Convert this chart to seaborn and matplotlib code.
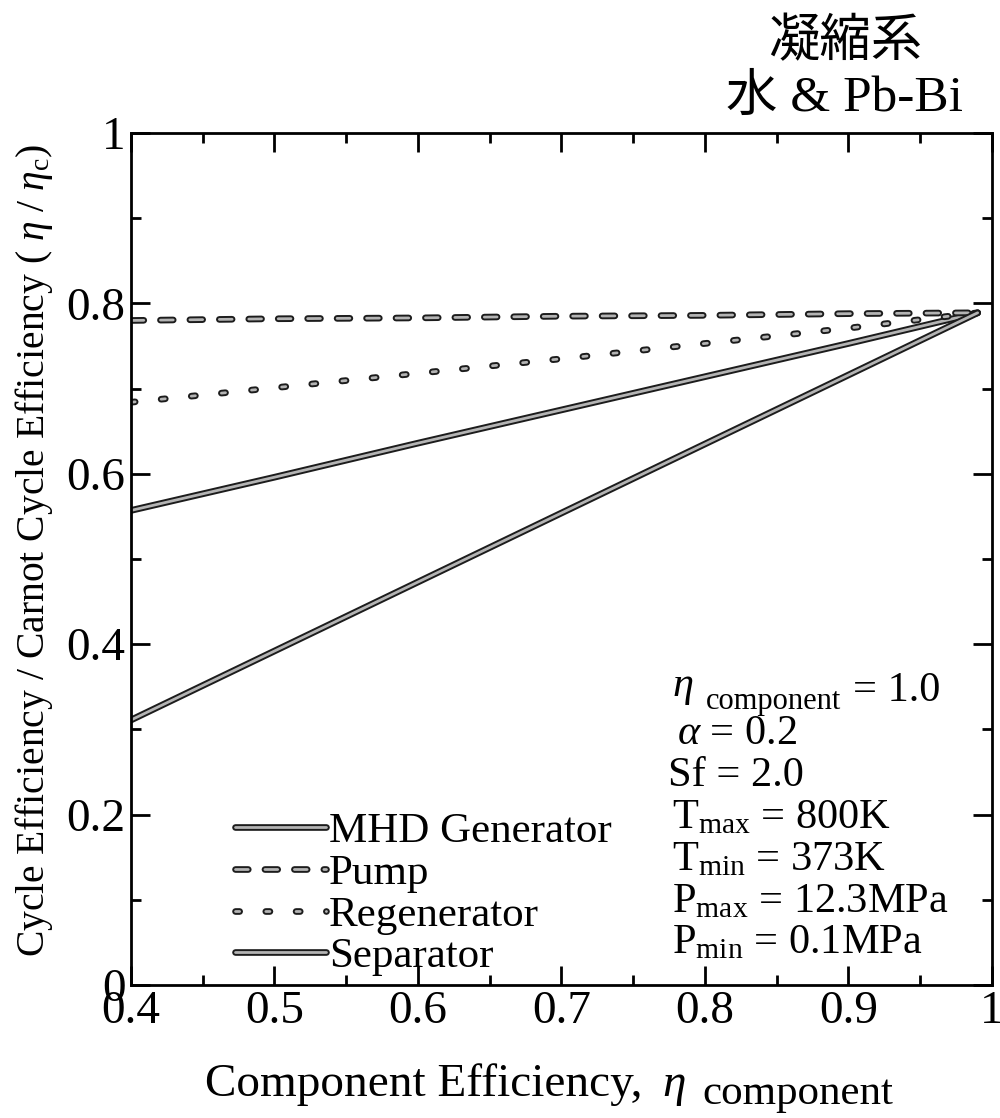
import numpy as np
import pandas as pd
import matplotlib
matplotlib.use("Agg")
import matplotlib.pyplot as plt
import matplotlib.patheffects as pe
from matplotlib.ticker import MultipleLocator, FuncFormatter
import seaborn as sns

# ---- data ----
eta_component = [0.40, 0.50, 0.60, 0.70, 0.80, 0.90, 0.99]
mhd_generator = [0.557, 0.596, 0.636, 0.675, 0.714, 0.753, 0.789]
pump = [0.780, 0.782, 0.783, 0.785, 0.786, 0.788, 0.789]
regenerator = [0.684, 0.701, 0.718, 0.735, 0.753, 0.771, 0.789]
separator = [0.311, 0.392, 0.473, 0.554, 0.635, 0.716, 0.789]
series_names = ["MHD Generator", "Pump", "Regenerator", "Separator"]
x_ticks = [0.4, 0.5, 0.6, 0.7, 0.8, 0.9, 1.0]
y_ticks = [0, 0.2, 0.4, 0.6, 0.8, 1.0]
title_lines = ["凝縮系", "水 & Pb-Bi"]
eta_line_parts = [r"$\eta$", "component", "= 1.0"]
condition_lines = [
    r"$\alpha$ = 0.2",
    "Sf = 2.0",
    r"T$_{\rm max}$ = 800K",
    r"T$_{\rm min}$ = 373K",
    r"P$_{\rm max}$ = 12.3MPa",
    r"P$_{\rm min}$ = 0.1MPa",
]
xlabel_parts = ["Component Efficiency,", r"$\eta$", "component"]

values = [mhd_generator, pump, regenerator, separator]
df = pd.DataFrame({
    "eta": np.concatenate([eta_component] * len(series_names)),
    "ratio": np.concatenate(values),
    "series": np.repeat(series_names, len(eta_component)),
})

sns.set_theme(style="ticks")
plt.rcParams["font.family"] = ["Liberation Serif", "Noto Sans CJK JP"]
plt.rcParams["mathtext.fontset"] = "custom"
plt.rcParams["mathtext.rm"] = "Liberation Serif"
plt.rcParams["mathtext.it"] = "Liberation Serif:italic"
plt.rcParams["mathtext.bf"] = "Liberation Serif:bold"

fig = plt.figure(figsize=(10, 11.18), dpi=100)
fig.patch.set_facecolor("white")
ax = fig.add_axes([0.131, 0.119, 0.861, 0.762])
ax.set_facecolor("white")

palette = {s: "#b4b4b4" for s in series_names}
dashes = {
    "MHD Generator": "",
    "Pump": (4.6, 6.0),
    "Regenerator": (1.5, 9.4),
    "Separator": "",
}
sns.lineplot(data=df, x="eta", y="ratio", hue="series", style="series",
             hue_order=series_names, style_order=series_names,
             palette=palette, dashes=dashes, linewidth=2.0,
             sort=False, legend=False, ax=ax)

for line in ax.lines:
    line.set_dash_capstyle("round")
    line.set_solid_capstyle("round")
    line.set_path_effects([pe.Stroke(linewidth=4.8, foreground="#1c1c1c"), pe.Normal()])

ax.set_xlim(0.4, 1.0)
ax.set_ylim(0, 1.0)
ax.set_xticks(x_ticks)
ax.set_yticks(y_ticks)
ax.xaxis.set_minor_locator(MultipleLocator(0.05))
ax.yaxis.set_minor_locator(MultipleLocator(0.1))
fmt = FuncFormatter(lambda v, p: "%g" % round(v, 3))
ax.xaxis.set_major_formatter(fmt)
ax.yaxis.set_major_formatter(fmt)
ax.tick_params(which="both", direction="in", top=True, right=True,
               width=2, color="black")
ax.tick_params(which="major", length=14)
ax.tick_params(which="minor", length=7)
ax.tick_params(axis="x", labelsize=34, pad=4, labelcolor="black")
ax.tick_params(axis="y", labelsize=34, pad=4, labelcolor="black")
for sp in ax.spines.values():
    sp.set_linewidth(2)
    sp.set_color("black")

ax.set_xlabel("")
ax.set_ylabel(r"Cycle Efficiency / Carnot Cycle Efficiency ( $\eta$ / $\eta_{\rm c}$)",
              fontsize=28.5, color="black")
ax.yaxis.set_label_coords(-0.088, 0.51)

# x-axis label built from pieces (main text, eta, subscript)
fig.text(205 / 1000, 1 - 1096 / 1118, xlabel_parts[0], ha="left", va="baseline",
         fontsize=34, color="black")
fig.text(662 / 1000, 1 - 1096 / 1118, xlabel_parts[1], ha="left", va="baseline",
         fontsize=34, color="black")
fig.text(702 / 1000, 1 - 1104 / 1118, xlabel_parts[2], ha="left", va="baseline",
         fontsize=31, color="black")

# legend
leg = ax.legend(ax.lines, series_names, loc="upper left",
                bbox_to_anchor=(0.121, 0.203), frameon=False, fontsize=31,
                handlelength=2.1, handletextpad=0.08, borderaxespad=0,
                borderpad=0, labelspacing=0.06)
for t in leg.get_texts():
    t.set_color("black")

# conditions: first line in pieces
fig.text(672 / 1000, 1 - 696 / 1118, eta_line_parts[0], ha="left", va="baseline",
         fontsize=30.5, color="black")
fig.text(706 / 1000, 1 - 709 / 1118, eta_line_parts[1], ha="left", va="baseline",
         fontsize=22, color="black")
fig.text(853 / 1000, 1 - 701 / 1118, eta_line_parts[2], ha="left", va="baseline",
         fontsize=30.5, color="black")

baselines = [744, 786, 828, 870, 912, 953]
lefts = [677, 668, 672, 672, 672, 672]
for txt, b, l in zip(condition_lines, baselines, lefts):
    fig.text(l / 1000, 1 - b / 1118, txt, ha="left", va="baseline",
             fontsize=30.5, color="black")

# title
fig.text(0.845, 1 - 43 / 1118, title_lines[0], ha="center", va="center",
         fontsize=37, color="black")
fig.text(0.845, 1 - 98 / 1118, title_lines[1], ha="center", va="center",
         fontsize=37, color="black")

fig.savefig("out.png", dpi=100, facecolor="white")
